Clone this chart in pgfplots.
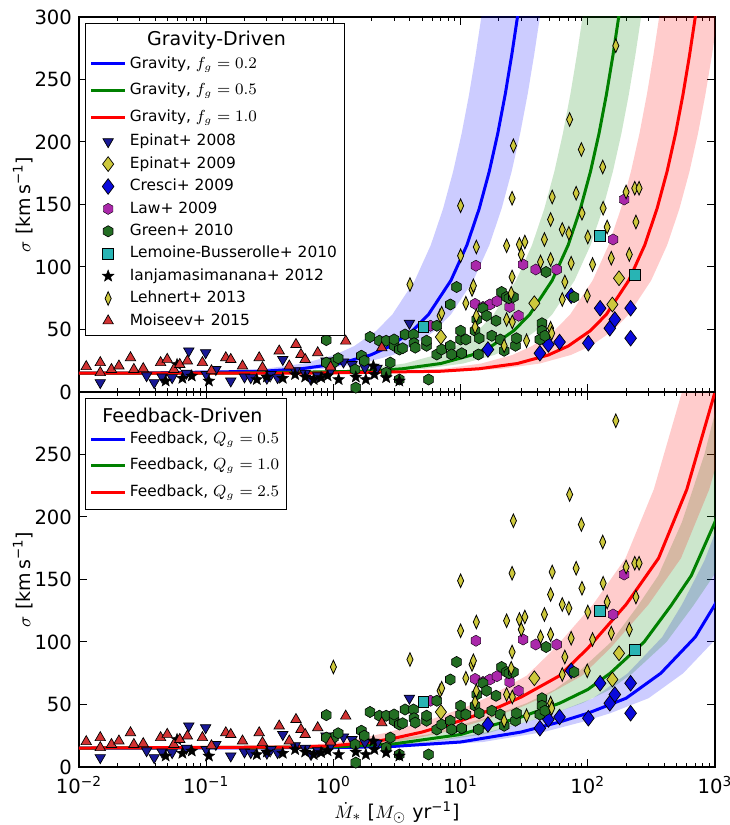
\documentclass[border=0pt]{standalone}
\usepackage{fontspec}
\setmainfont{DejaVu Sans}
\usepackage{pgfplots}
\usepackage{pgfplotstable}
\pgfplotsset{compat=1.18}

\pgfdeclareplotmark{hexa}{%
  \pgfpathmoveto{\pgfqpoint{0pt}{\pgfplotmarksize}}%
  \pgfpathlineto{\pgfqpoint{-0.866\pgfplotmarksize}{0.5\pgfplotmarksize}}%
  \pgfpathlineto{\pgfqpoint{-0.866\pgfplotmarksize}{-0.5\pgfplotmarksize}}%
  \pgfpathlineto{\pgfqpoint{0pt}{-\pgfplotmarksize}}%
  \pgfpathlineto{\pgfqpoint{0.866\pgfplotmarksize}{-0.5\pgfplotmarksize}}%
  \pgfpathlineto{\pgfqpoint{0.866\pgfplotmarksize}{0.5\pgfplotmarksize}}%
  \pgfpathclose\pgfusepathqfillstroke}
\pgfdeclareplotmark{fstar}{%
  \pgfpathmoveto{\pgfqpoint{0pt}{\pgfplotmarksize}}%
  \pgfpathlineto{\pgfqpoint{-0.247\pgfplotmarksize}{0.340\pgfplotmarksize}}%
  \pgfpathlineto{\pgfqpoint{-0.951\pgfplotmarksize}{0.309\pgfplotmarksize}}%
  \pgfpathlineto{\pgfqpoint{-0.399\pgfplotmarksize}{-0.130\pgfplotmarksize}}%
  \pgfpathlineto{\pgfqpoint{-0.588\pgfplotmarksize}{-0.809\pgfplotmarksize}}%
  \pgfpathlineto{\pgfqpoint{0pt}{-0.42\pgfplotmarksize}}%
  \pgfpathlineto{\pgfqpoint{0.588\pgfplotmarksize}{-0.809\pgfplotmarksize}}%
  \pgfpathlineto{\pgfqpoint{0.399\pgfplotmarksize}{-0.130\pgfplotmarksize}}%
  \pgfpathlineto{\pgfqpoint{0.951\pgfplotmarksize}{0.309\pgfplotmarksize}}%
  \pgfpathlineto{\pgfqpoint{0.247\pgfplotmarksize}{0.340\pgfplotmarksize}}%
  \pgfpathclose\pgfusepathqfillstroke}

\definecolor{mplblue}{rgb}{0,0,1}
\definecolor{mplgreen}{rgb}{0,0.5,0}
\definecolor{mplred}{rgb}{1,0,0}
\definecolor{epAcol}{RGB}{25,25,150}
\definecolor{yelcol}{RGB}{205,200,60}
\definecolor{crecol}{RGB}{10,10,220}
\definecolor{lawcol}{RGB}{170,40,170}
\definecolor{grecol}{RGB}{35,110,35}
\definecolor{lemcol}{RGB}{40,180,180}
\definecolor{moicol}{RGB}{210,50,50}

% gravity-driven model lines
\pgfplotstableread{
sig bM gM rM
15.0 0.0004 0.0025 0.005
15.1 0.028 0.175 0.7
16.6 0.28 1.75 7
18.6 0.56 3.5 14
22.8 1.12 7 28
29.6 1.96 12.25 49
36.7 2.8 17.5 70
49.1 4.2 26.25 105
62.1 5.6 35 140
89.3 8.4 52.5 210
117.4 11.2 70 280
146.6 14 87.5 350
176.4 16.8 105 420
206.8 19.6 122.5 490
237.8 22.4 140 560
269.1 25.2 157.5 630
300 28 175 700
332 30.8 192.5 770
}\gravlines

% gravity bands as closed outlines: upper edge out, lower edge back
\pgfplotstableread{
x y
0.000208 15.0
0.01456 15.1
0.1456 16.6
0.2912 18.6
0.5824 22.8
1.019 29.6
1.456 36.7
2.184 49.1
2.912 62.1
4.368 89.3
5.824 117.4
7.28 146.6
8.736 176.4
10.19 206.8
11.65 237.8
13.10 269.1
14.56 300
16.02 332
46.2 332
42 300
37.8 269.1
33.6 237.8
29.4 206.8
25.2 176.4
21 146.6
16.8 117.4
12.6 89.3
8.4 62.1
6.3 49.1
4.2 36.7
2.94 29.6
1.68 22.8
0.84 18.6
0.42 16.6
0.042 15.1
0.0006 15.0
}\gbandB
\pgfplotstableread{
x y
0.0013 15.0
0.091 15.1
0.91 16.6
1.82 18.6
3.64 22.8
6.37 29.6
9.1 36.7
13.65 49.1
18.2 62.1
27.3 89.3
36.4 117.4
45.5 146.6
54.6 176.4
63.7 206.8
72.8 237.8
81.9 269.1
91 300
100.1 332
288.75 332
262.5 300
236.25 269.1
210 237.8
183.75 206.8
157.5 176.4
131.25 146.6
105 117.4
78.75 89.3
52.5 62.1
39.375 49.1
26.25 36.7
18.375 29.6
10.5 22.8
5.25 18.6
2.625 16.6
0.2625 15.1
0.00375 15.0
}\gbandG
\pgfplotstableread{
x y
0.0052 15.0
0.364 15.1
3.64 16.6
7.28 18.6
14.56 22.8
25.48 29.6
36.4 36.7
54.6 49.1
72.8 62.1
109.2 89.3
145.6 117.4
182 146.6
218.4 176.4
254.8 206.8
291.2 237.8
327.6 269.1
364 300
400.4 332
1155 332
1050 300
945 269.1
840 237.8
735 206.8
630 176.4
525 146.6
420 117.4
315 89.3
210 62.1
157.5 49.1
105 36.7
73.5 29.6
42 22.8
21 18.6
10.5 16.6
1.05 15.1
0.015 15.0
}\gbandR

% feedback-driven model lines
\pgfplotstableread{
x m
0.005 15
1 15.5
3 16.5
10 20
30 28
60 36
100 43
200 55
375 75
700 104
1000 130
1500 165
2000 198
}\fbA
\pgfplotstableread{
x m
0.005 15
1 16
3 18.5
10 26
30 40
60 51
100 62
150 75
277 100
450 129
650 153
1000 196
1500 250
2000 300
}\fbB
\pgfplotstableread{
x m
0.005 15
0.5 16
1 17
2 20
3 23
5 28
10 37
20 48
30 56
60 73
100 95
200 130
360 167
600 222
1000 300
1500 395
2000 490
}\fbC
% feedback bands as closed outlines: upper edge out, lower edge back
\pgfplotstableread{
x y
0.00275 15
0.55 15.5
1.65 16.5
5.5 20
16.5 28
33 36
55 43
110 55
206.25 75
385 104
550 130
825 165
1100 198
3000 198
2250 165
1500 130
1050 104
562.5 75
300 55
150 43
90 36
45 28
15 20
4.5 16.5
1.5 15.5
0.0075 15
}\fbandB
\pgfplotstableread{
x y
0.00275 15
0.55 16
1.65 18.5
5.5 26
16.5 40
33 51
55 62
82.5 75
152.35 100
247.5 129
357.5 153
550 196
825 250
1100 300
3000 300
2250 250
1500 196
975 153
675 129
415.5 100
225 75
150 62
90 51
45 40
15 26
4.5 18.5
1.5 16
0.0075 15
}\fbandG
\pgfplotstableread{
x y
0.00275 15
0.275 16
0.55 17
1.1 20
1.65 23
2.75 28
5.5 37
11 48
16.5 56
33 73
55 95
110 130
198 167
330 222
550 300
825 395
1100 490
3000 490
2250 395
1500 300
900 222
540 167
300 130
150 95
90 73
45 56
30 48
15 37
7.5 28
4.5 23
3 20
1.5 17
0.75 16
0.0075 15
}\fbandR

\pgfplotstableread{
x y
0.0147 7.5
0.034 13
0.039 7.5
0.045 12
0.054 11.5
0.07 15
0.073 32.8
0.099 31.4
0.1 14
0.119 18
0.156 8.8
0.2 12
0.224 11.5
0.3 11
0.323 14
0.364 11.5
0.4 26
0.5 17
0.6 15
0.667 10
0.753 13
0.875 24.8
0.95 17
1.2 24
1.4 22
1.77 19.5
2.2 19
3.96 55
}\epinatA
\pgfplotstableread{
x y
7 44
38 71
156 70
176 91
}\epinatB
\pgfplotstableread{
x y
16.4 34
42 31
49 38
60 40
74 77
101 39
125 67
149 51
163 58
217 67
217 43
}\cresci
\pgfplotstableread{
x y
5.8 53
13 70.5
13.2 101
15 68
17 70
19.3 72.6
24.3 68
28.6 61
31 102
39 98
57 98
158 122
193 154
}\lawdata
\pgfplotstableread{
x y
0.88 41.5
1.0 23.5
1.09 27
0.88 23.5
1.48 18
1.5 3.5
1.66 29
1.75 25
1.94 44
2.3 41
2.6 41
2.8 23.5
2.6 15.5
3.0 37
3.0 42
3.3 34
3.3 10
3.5 35
3.66 46
4.26 46
4.3 39
4.4 35.5
5.4 37
5.4 41
5.6 10
6.5 53
6.5 30
7.1 34
8.3 37
8.3 70
8.5 30
9.3 84
10 42
10 49
10.2 31
11 42
13 49
13.4 58
13.8 30
14 43
15 67
16 61
17.6 45
19 57
20.5 42
21 80
22 33
23 76
24 75
26 76
27 37
27.5 43
42 42
43.6 55
43.6 49
46 45
47 96
78 76
}\greendata
\pgfplotstableread{
x y
5.1 52
125 125
234 94
}\lemoine
\pgfplotstableread{
x y
0.048 8.8
0.059 22
0.065 11
0.077 12.8
0.105 8.8
0.25 10
0.3 12
0.4 11
0.5 14
0.6 12
0.7 10
0.8 11.5
0.9 13
1.1 10
1.5 12
1.8 10
2.06 20.8
2.1 14
2.6 11.5
3.3 8.8
}\iaja
\pgfplotstableread{
x y
1.0 80
4.0 86
6.9 61
7.1 63
10 149
10 109
11 71
12.3 82
12.6 85
13 52
13.3 61
13.3 116
22 37
23 117
23 58
25 79
25.4 155
25.4 92
25.5 56
26 197
29 118
30 110
32 120
33 41
42.5 104
45.6 122
51 138
51 106
51 51
52 47
52.5 156
63 130
63 74
66 88
71 127
72 218
74 103
81 159
89 194
90 143
99 77
100 124
109 102
131 180
132 147
142 132
153 107
166 277
200 160
212 110
234 163
239 136
253 163
}\lehnert
\pgfplotstableread{
x y
0.0114 20.3
0.0147 23.5
0.0147 15.5
0.018 18
0.0206 20.8
0.0254 27.4
0.027 18
0.032 18.7
0.0438 23.5
0.0494 26.1
0.0557 18
0.062 22
0.0711 24.8
0.0934 23.5
0.11 17
0.1426 27.4
0.156 26
0.193 20.8
0.261 27.4
0.277 19.5
0.375 32.8
0.45 20.8
0.508 38
0.556 30
0.6 26
0.753 31.4
0.95 20
1.25 40.7
2.4 35.4
}\moiseev

\newcommand{\scatterlayers}{%
\addplot[only marks, mark=triangle*, mark size=3pt, mark options={rotate=180, fill=epAcol, draw=black, line width=0.35pt}] table {\epinatA};
\addplot[only marks, mark=diamond*, mark size=3.7pt, mark options={fill=yelcol, draw=black, line width=0.35pt}] table {\epinatB};
\addplot[only marks, mark=diamond*, mark size=3.9pt, mark options={fill=crecol, draw=black, line width=0.35pt}] table {\cresci};
\addplot[only marks, mark=hexa, mark size=2.8pt, mark options={fill=lawcol, draw=black, line width=0.2pt}] table {\lawdata};
\addplot[only marks, mark=hexa, mark size=2.8pt, mark options={fill=grecol, draw=black, line width=0.3pt}] table {\greendata};
\addplot[only marks, mark=square*, mark size=2.7pt, mark options={fill=lemcol, draw=black, line width=0.35pt}] table {\lemoine};
\addplot[only marks, mark=fstar, mark size=3.1pt, mark options={fill=black, draw=black, line width=0.2pt}] table {\iaja};
\addplot[only marks, mark=diamond*, mark size=3.4pt, mark options={xscale=0.6, fill=yelcol, draw=black, line width=0.4pt}] table {\lehnert};
\addplot[only marks, mark=triangle*, mark size=3pt, mark options={fill=moicol, draw=black, line width=0.35pt}] table {\moiseev};
}
\newcommand{\titlestrut}{\rule[-2pt]{0pt}{8.2pt}}
\newcommand{\linestrut}{\rule[-2.8pt]{0pt}{9.8pt}}
\newcommand{\mstrut}{\rule[-1.7pt]{0pt}{7.7pt}}

\begin{document}
\begin{tikzpicture}
\path[use as bounding box] (-39.5pt,-29pt) rectangle (325pt,383.5pt);

% bottom panel: feedback-driven
\begin{axis}[at={(0pt,0pt)}, anchor=south west,
    width=318pt, height=187.5pt, scale only axis,
    xmode=log, xmin=0.01, xmax=1000, ymin=0, ymax=300,
    xtick={0.01,0.1,1,10,100,1000},
    axis line style={line width=0.6pt},
    major tick length=4pt, minor tick length=2pt,
    tick style={black, line width=0.5pt},
    tick align=inside,
    tick label style={font=\fontsize{9.8}{11.5}\selectfont},
    label style={font=\fontsize{9.5}{11.5}\selectfont},
    ylabel={$\sigma$ [km\,s\textsuperscript{−1}]}, ylabel shift=-6pt,
    legend cell align=left,
    legend style={at={(0.0094,0.984)}, anchor=north west, draw=black, line width=0.6pt,
      fill=white, font=\fontsize{7.7}{9}\selectfont, inner sep=2pt, row sep=0.3pt,
      nodes={inner sep=1.6pt, text depth=}},
  ytick={0,50,100,150,200,250},
  xticklabels={10\textsuperscript{−2},10\textsuperscript{−1},10\textsuperscript{0},10\textsuperscript{1},10\textsuperscript{2},10\textsuperscript{3}},
  xticklabel style={yshift=-1pt},
  xlabel={$\dot{M}_*$ [$M_\odot$ yr\textsuperscript{−1}]}, xlabel shift=-3pt,
  yticklabel style={/pgf/number format/assume math mode=true}]
\addlegendimage{empty legend}
\addlegendentry{\titlestrut}
\addplot[fill=mplblue, fill opacity=0.2, draw=none, forget plot] table {\fbandB};
\addplot[fill=mplgreen, fill opacity=0.2, draw=none, forget plot] table {\fbandG};
\addplot[fill=mplred, fill opacity=0.2, draw=none, forget plot] table {\fbandR};
\addplot[mplblue, line width=1.5pt] table[x=x, y=m] {\fbA};
\addlegendentry{\linestrut Feedback, $Q_g=0.5$}
\addplot[mplgreen, line width=1.5pt] table[x=x, y=m] {\fbB};
\addlegendentry{\linestrut Feedback, $Q_g=1.0$}
\addplot[mplred, line width=1.5pt] table[x=x, y=m] {\fbC};
\addlegendentry{\linestrut Feedback, $Q_g=2.5$}
\scatterlayers
\end{axis}

% top panel: gravity-driven
\begin{axis}[at={(0pt,187.5pt)}, anchor=south west,
    width=318pt, height=187.5pt, scale only axis,
    xmode=log, xmin=0.01, xmax=1000, ymin=0, ymax=300,
    xtick={0.01,0.1,1,10,100,1000},
    axis line style={line width=0.6pt},
    major tick length=4pt, minor tick length=2pt,
    tick style={black, line width=0.5pt},
    tick align=inside,
    tick label style={font=\fontsize{9.8}{11.5}\selectfont},
    label style={font=\fontsize{9.5}{11.5}\selectfont},
    ylabel={$\sigma$ [km\,s\textsuperscript{−1}]}, ylabel shift=-6pt,
    legend cell align=left,
    legend style={at={(0.0094,0.984)}, anchor=north west, draw=black, line width=0.6pt,
      fill=white, font=\fontsize{7.7}{9}\selectfont, inner sep=2pt, row sep=0.3pt,
      nodes={inner sep=1.6pt, text depth=}},
  ytick={0,50,100,150,200,250,300},
  xticklabels={},
  yticklabel style={/pgf/number format/assume math mode=true}]
\addlegendimage{empty legend}
\addlegendentry{\titlestrut}
\addplot[fill=mplblue, fill opacity=0.2, draw=none, forget plot] table {\gbandB};
\addplot[fill=mplgreen, fill opacity=0.2, draw=none, forget plot] table {\gbandG};
\addplot[fill=mplred, fill opacity=0.2, draw=none, forget plot] table {\gbandR};
\addplot[mplblue, line width=1.5pt] table[x=bM, y=sig] {\gravlines};
\addlegendentry{\linestrut Gravity, $f_g=0.2$}
\addplot[mplgreen, line width=1.5pt] table[x=gM, y=sig] {\gravlines};
\addlegendentry{\linestrut Gravity, $f_g=0.5$}
\addplot[mplred, line width=1.5pt] table[x=rM, y=sig] {\gravlines};
\addlegendentry{\linestrut Gravity, $f_g=1.0$}
\scatterlayers
\addlegendentry{\mstrut Epinat+ 2008}
\addlegendentry{\mstrut Epinat+ 2009}
\addlegendentry{\mstrut Cresci+ 2009}
\addlegendentry{\mstrut Law+ 2009}
\addlegendentry{\mstrut Green+ 2010}
\addlegendentry{\mstrut Lemoine-Busserolle+ 2010}
\addlegendentry{\mstrut Ianjamasimanana+ 2012}
\addlegendentry{\mstrut Lehnert+ 2013}
\addlegendentry{\mstrut Moiseev+ 2015}
\end{axis}

% legend titles
\node[font=\fontsize{9.5}{11}\selectfont, inner sep=0pt] at (68.75pt,363.5pt) {Gravity-Driven};
\node[font=\fontsize{9.5}{11}\selectfont, inner sep=0pt] at (51.75pt,176pt) {Feedback-Driven};
\end{tikzpicture}
\end{document}
